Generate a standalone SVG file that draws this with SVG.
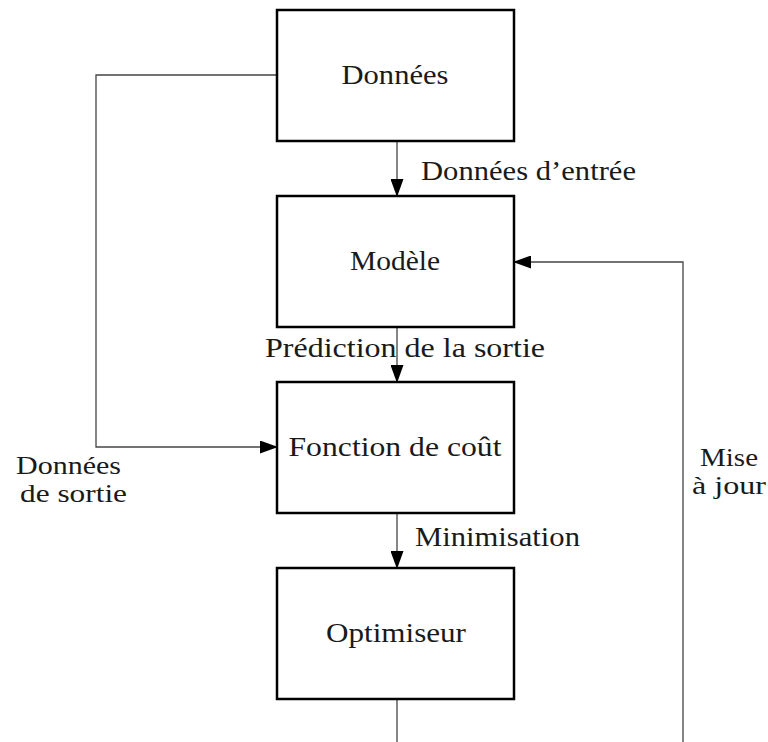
<svg xmlns="http://www.w3.org/2000/svg" width="768" height="742" viewBox="0 0 768 742">
<style>
.box{fill:#fff;stroke:#000;stroke-width:2.5}
.t{font-family:"Liberation Serif","DejaVu Serif",serif;font-size:28px;fill:#1a1a1a}
.s{font-size:26px}
.m{text-anchor:middle}
.c{fill:none;stroke:#444;stroke-width:1.3}
</style>
<defs>
<marker id="ah" viewBox="0 0 18 13" refX="17" refY="6.5" markerWidth="18" markerHeight="13" markerUnits="userSpaceOnUse" orient="auto">
<path d="M0,0 L18,6.5 L0,13 Z" fill="#000"/>
</marker>
</defs>
<rect width="768" height="742" fill="#fff"/>
<g id="connectors">
<path class="c" d="M397,141 V196" marker-end="url(#ah)"/>
<path class="c" d="M397,327 V382" marker-end="url(#ah)"/>
<path class="c" d="M397,513 V568" marker-end="url(#ah)"/>
<path class="c" d="M277,75 H96 V447 H277" marker-end="url(#ah)"/>
<path class="c" d="M683,742 V262 H514" marker-end="url(#ah)"/>
<path class="c" d="M397,699 V742"/>
</g>
<g id="labels">
<text class="t" x="421" y="180" textLength="215" lengthAdjust="spacingAndGlyphs">Données d’entrée</text>
<text class="t" x="265" y="357" textLength="280" lengthAdjust="spacingAndGlyphs">Prédiction de la sortie</text>
<text class="t" x="415" y="546" textLength="165" lengthAdjust="spacingAndGlyphs">Minimisation</text>
<text class="t s" x="16" y="474" textLength="105" lengthAdjust="spacingAndGlyphs">Données</text>
<text class="t s" x="20" y="502" textLength="107" lengthAdjust="spacingAndGlyphs">de sortie</text>
<text class="t s" x="700" y="466" textLength="58" lengthAdjust="spacingAndGlyphs">Mise</text>
<text class="t s" x="692" y="494" textLength="74" lengthAdjust="spacingAndGlyphs">à jour</text>
</g>
<g id="donnees">
<rect class="box" x="277" y="10" width="237" height="131"/>
<text class="t m" x="395" y="84" textLength="107" lengthAdjust="spacingAndGlyphs">Données</text>
</g>
<g id="modele">
<rect class="box" x="277" y="196" width="237" height="131"/>
<text class="t m" x="395" y="270" textLength="90" lengthAdjust="spacingAndGlyphs">Modèle</text>
</g>
<g id="fonction">
<rect class="box" x="277" y="382" width="237" height="131"/>
<text class="t m" x="395" y="456" textLength="213" lengthAdjust="spacingAndGlyphs">Fonction de coût</text>
</g>
<g id="optimiseur">
<rect class="box" x="277" y="568" width="237" height="131"/>
<text class="t m" x="396" y="642" textLength="140" lengthAdjust="spacingAndGlyphs">Optimiseur</text>
</g>
</svg>
